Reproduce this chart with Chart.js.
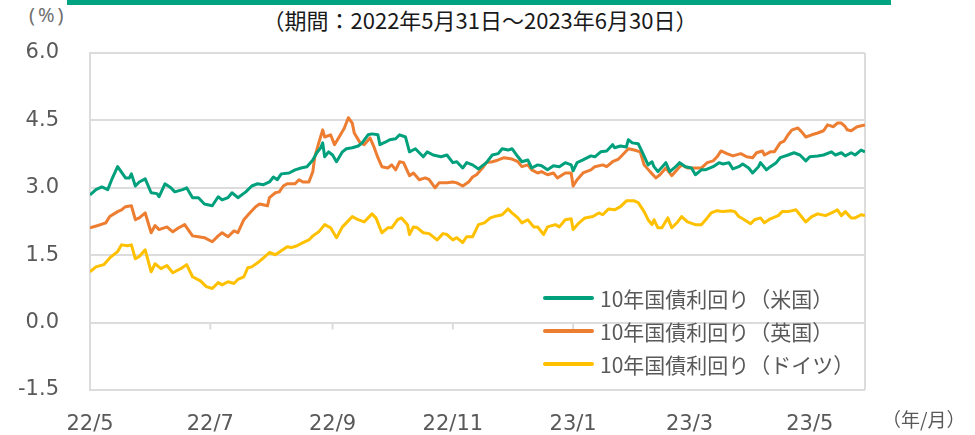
<!DOCTYPE html>
<html lang="ja">
<head>
<meta charset="utf-8">
<script src="https://cdn.jsdelivr.net/npm/chart.js@4.4.1/dist/chart.umd.min.js"></script>
<style>
  body { margin: 0; background: #fff; }
  .wrap { position: relative; width: 975px; height: 435px; font-family: "Noto Sans CJK JP", sans-serif; color: #595959; }
  .topbar { position: absolute; left: 67px; top: 0; width: 824px; height: 5px; background: #00a381; }
  .subtitle { position: absolute; left: 0; top: 6px; width: 960px; text-align: center; font-size: 22px; line-height: 26px; color: #1a1a1a; }
  .unit { position: absolute; left: 29px; top: 2px; font-family: "Noto Sans", sans-serif; font-size: 20px; line-height: 26px; letter-spacing: 3px; color: #707070; }
  .xunit { position: absolute; left: 882px; top: 406px; font-size: 19px; line-height: 26px; }
  #legend { position: absolute; left: 543px; top: 281px; }
  #legend div { height: 33px; display: flex; align-items: center; font-size: 21px; }
  #legend span.swatch { display: inline-block; width: 51px; height: 4px; margin-right: 6px; border-radius: 2px; }
  canvas { position: absolute; left: 0; top: 0; }
</style>
</head>
<body>
<div class="wrap">
  <div class="topbar"></div>
  <div class="subtitle">（期間：2022年5月31日～2023年6月30日）</div>
  <div class="unit">(%)</div>
  <canvas id="yieldChart" width="975" height="435"></canvas>
  <div id="legend"></div>
  <div class="xunit">（年/月）</div>
</div>
<script>
// 日数は2022/5/31からの経過日数
const monthTicks = [0, 61, 123, 184, 245, 304, 365];
const monthLabels = ['22/5', '22/7', '22/9', '22/11', '23/1', '23/3', '23/5'];

const usDays = [0,3,6,9,11,14,18,20,21,23,25,28,31,34,35,38,41,43,47,49,52,55,58,62,65,67,70,72,75,79,
  82,85,88,91,93,95,97,101,104,107,110,113,115,117,118,119,121,123,125,128,130,133,136,138,141,143,146,147,150,152,
  155,157,160,162,165,169,171,174,178,181,184,186,189,191,194,197,201,204,207,209,212,214,217,219,222,224,227,229,232,235,
  238,241,244,245,247,250,254,256,259,262,265,266,269,272,273,275,278,280,283,285,286,288,292,294,297,299,302,305,307,310,
  312,316,319,321,324,326,329,331,334,336,339,340,343,345,348,350,354,357,360,363,365,369,372,376,378,381,383,386,388,391,393];
const usYield = [2.84,2.96,3.02,2.96,3.18,3.47,3.22,3.22,3.31,3.04,3.13,3.20,2.89,2.87,2.80,3.09,3.00,2.91,2.96,3.00,
  2.78,2.78,2.64,2.60,2.80,2.73,2.78,2.89,2.78,2.91,3.04,3.09,3.07,3.13,3.24,3.18,3.31,3.33,3.40,3.44,
  3.47,3.62,3.78,3.89,4.00,3.69,3.80,3.73,3.58,3.80,3.87,3.89,3.93,4.00,4.18,4.20,4.18,3.96,4.02,4.07,
  4.09,4.18,4.13,3.80,3.87,3.69,3.80,3.73,3.69,3.73,3.56,3.58,3.44,3.56,3.51,3.42,3.56,3.73,3.76,3.87,
  3.84,3.87,3.69,3.58,3.62,3.44,3.51,3.49,3.40,3.49,3.47,3.56,3.51,3.38,3.56,3.62,3.71,3.69,3.80,3.82,
  3.96,3.89,3.93,3.91,4.07,4.00,3.98,3.80,3.51,3.58,3.47,3.36,3.56,3.36,3.47,3.56,3.47,3.44,3.29,3.40,
  3.40,3.47,3.56,3.53,3.56,3.42,3.47,3.53,3.44,3.33,3.47,3.56,3.40,3.47,3.56,3.67,3.73,3.78,3.73,3.60,
  3.69,3.71,3.73,3.80,3.73,3.78,3.71,3.78,3.73,3.84,3.80];

const ukDays = [0,4,8,10,14,16,18,21,23,25,28,31,33,35,39,42,45,48,52,55,58,62,65,67,70,73,75,78,81,84,
  86,90,91,94,96,98,100,104,106,108,111,113,114,116,118,119,122,124,127,129,131,133,134,137,139,142,144,146,148,151,
  153,155,157,159,162,164,167,170,172,175,177,181,184,186,189,192,194,196,199,201,204,207,210,214,217,219,222,224,227,229,
  232,235,237,241,244,245,247,250,254,256,260,262,265,268,270,273,276,279,281,284,287,289,292,295,298,300,303,307,310,313,
  316,318,320,323,326,330,333,336,338,341,342,345,347,350,352,354,356,359,361,363,366,369,372,374,377,379,381,383,384,386,
  389,393];
const ukYield = [2.11,2.16,2.22,2.36,2.47,2.51,2.58,2.60,2.29,2.33,2.44,2.00,2.16,2.07,2.13,2.02,2.11,2.18,1.93,1.91,
  1.89,1.80,1.93,2.00,1.91,2.04,2.00,2.29,2.44,2.58,2.64,2.60,2.78,2.89,2.91,3.04,3.09,3.09,3.18,3.13,
  3.13,3.36,3.69,4.00,4.29,4.13,4.18,3.96,4.18,4.33,4.56,4.44,4.22,4.00,3.96,4.11,3.91,3.67,3.47,3.44,
  3.51,3.40,3.58,3.56,3.27,3.33,3.18,3.22,3.18,3.00,3.11,3.11,3.13,3.11,3.04,3.13,3.24,3.29,3.44,3.56,
  3.58,3.62,3.67,3.64,3.58,3.47,3.51,3.40,3.33,3.36,3.29,3.33,3.22,3.33,3.33,3.04,3.18,3.33,3.40,3.47,
  3.51,3.47,3.58,3.64,3.73,3.87,3.84,3.80,3.51,3.36,3.22,3.29,3.44,3.27,3.42,3.51,3.44,3.44,3.44,3.56,
  3.60,3.69,3.82,3.76,3.71,3.76,3.69,3.67,3.78,3.82,3.73,3.80,3.80,4.00,4.04,4.18,4.29,4.33,4.24,4.13,
  4.18,4.22,4.27,4.40,4.36,4.44,4.44,4.36,4.29,4.27,4.36,4.40];

const deDays = [0,3,7,10,14,16,19,21,23,25,28,31,33,36,39,42,46,49,52,56,59,62,65,67,70,73,75,78,80,82,
  85,88,91,94,97,100,102,105,108,111,113,116,119,122,125,128,130,133,136,139,143,145,148,151,153,156,158,161,162,164,
  166,169,172,176,179,181,184,186,189,191,194,197,200,203,205,209,212,214,217,219,222,225,227,230,232,236,238,241,244,245,
  248,251,255,258,260,263,266,269,272,276,278,281,283,285,286,288,290,293,295,298,300,303,307,310,313,315,318,321,325,327,
  329,331,335,337,340,342,345,349,351,354,358,360,363,366,369,373,376,379,381,383,386,388,391,393];
const deYield = [1.13,1.24,1.29,1.44,1.58,1.73,1.71,1.73,1.42,1.47,1.62,1.13,1.31,1.20,1.27,1.11,1.20,1.29,1.02,0.93,
  0.80,0.76,0.89,0.84,0.91,0.87,0.96,1.02,1.22,1.24,1.33,1.44,1.56,1.51,1.60,1.69,1.67,1.71,1.78,1.84,
  1.93,2.02,2.18,2.11,1.89,2.13,2.22,2.36,2.29,2.24,2.42,2.33,2.00,2.11,2.11,2.29,2.33,2.18,1.96,2.13,
  2.11,2.00,1.98,1.84,1.98,1.96,1.84,1.89,1.78,1.91,1.91,2.18,2.22,2.33,2.36,2.40,2.53,2.44,2.33,2.22,
  2.29,2.13,2.13,1.96,2.13,2.18,2.13,2.29,2.31,2.07,2.22,2.33,2.36,2.44,2.40,2.53,2.51,2.58,2.71,2.71,
  2.67,2.47,2.29,2.18,2.29,2.11,2.11,2.33,2.11,2.24,2.36,2.24,2.18,2.18,2.33,2.44,2.49,2.47,2.49,2.47,
  2.36,2.31,2.20,2.29,2.33,2.22,2.31,2.38,2.47,2.47,2.51,2.40,2.24,2.36,2.42,2.38,2.44,2.51,2.38,2.47,
  2.33,2.33,2.40,2.38];

const seriesNames = ['10年国債利回り（米国）', '10年国債利回り（英国）', '10年国債利回り（ドイツ）'];
const seriesColors = ['#00a07d', '#ed7d31', '#ffc000'];

function toPoints(days, vals) {
  return days.map((d, i) => ({ x: d, y: vals[i] }));
}

// 枠線とゼロ線の目盛り
const framePlugin = {
  id: 'frame',
  beforeDatasetsDraw(chart) {
    const { ctx, chartArea: a, scales } = chart;
    ctx.save();
    ctx.strokeStyle = '#dcdcdc';
    ctx.lineWidth = 2;
    ctx.beginPath();
    ctx.moveTo(a.right, a.top);
    ctx.lineTo(a.right, a.bottom);
    const y0 = scales.y.getPixelForValue(0);
    monthTicks.forEach(t => {
      const x = scales.x.getPixelForValue(t);
      ctx.moveTo(x, y0);
      ctx.lineTo(x, y0 + 7);
    });
    ctx.stroke();
    ctx.restore();
  }
};

const tickFont = { family: '"DejaVu Sans", Verdana, sans-serif', size: 21 };

const chart = new Chart(document.getElementById('yieldChart'), {
  type: 'line',
  data: {
    datasets: [
      { label: seriesNames[0], data: toPoints(usDays, usYield), borderColor: seriesColors[0] },
      { label: seriesNames[1], data: toPoints(ukDays, ukYield), borderColor: seriesColors[1] },
      { label: seriesNames[2], data: toPoints(deDays, deYield), borderColor: seriesColors[2] }
    ]
  },
  options: {
    responsive: false,
    animation: false,
    layout: { padding: { top: 53, right: 110, left: 0, bottom: 0 } },
    elements: {
      line: { borderWidth: 3, tension: 0, borderJoinStyle: 'round' },
      point: { radius: 0 }
    },
    plugins: { legend: { display: false }, tooltip: { enabled: false } },
    scales: {
      x: {
        type: 'linear',
        min: 0,
        max: 393,
        afterBuildTicks: s => { s.ticks = monthTicks.map(v => ({ value: v })); },
        afterFit: s => { s.height = 45; },
        grid: { display: false },
        border: { display: false },
        ticks: {
          autoSkip: false,
          maxRotation: 0,
          padding: 14,
          color: '#595959',
          font: tickFont,
          callback: v => monthLabels[monthTicks.indexOf(v)]
        }
      },
      y: {
        min: -1.5,
        max: 6,
        afterFit: s => { s.width = 90; },
        grid: { color: '#dcdcdc', lineWidth: 2, drawTicks: false },
        border: { color: '#dcdcdc', width: 2 },
        ticks: {
          stepSize: 1.5,
          padding: 31,
          color: '#595959',
          font: tickFont,
          callback: v => v.toFixed(1)
        }
      }
    }
  },
  plugins: [framePlugin]
});

// 凡例
const legend = document.getElementById('legend');
chart.data.datasets.forEach(ds => {
  const row = document.createElement('div');
  const sw = document.createElement('span');
  sw.className = 'swatch';
  sw.style.background = ds.borderColor;
  row.appendChild(sw);
  row.appendChild(document.createTextNode(ds.label));
  legend.appendChild(row);
});
</script>
</body>
</html>
